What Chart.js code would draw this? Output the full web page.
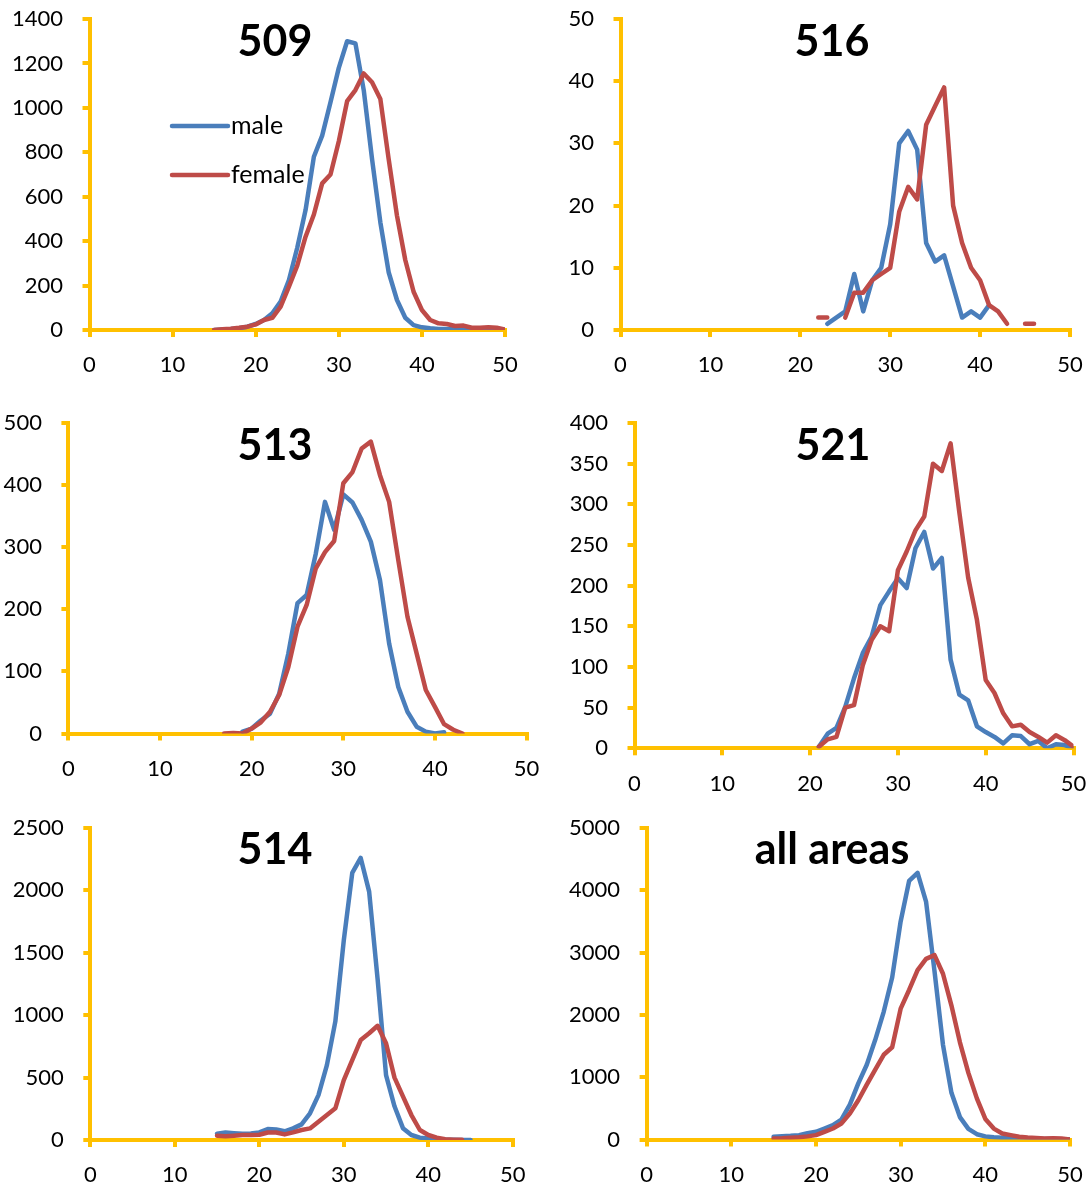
<!DOCTYPE html>
<html><head><meta charset="utf-8">
<script src="https://cdn.jsdelivr.net/npm/chart.js@4.4.1/dist/chart.umd.min.js"></script>
<style>
html,body{margin:0;padding:0;background:#fff;}
#wrap{position:relative;width:1089px;height:1189px;overflow:hidden;}
canvas{position:absolute;}
</style></head><body><div id="wrap"></div>
<script>
// ---- data ----
const ages = [15,16,17,18,19,20,21,22,23,24,25,26,27,28,29,30,31,32,33,34,35,36,37,38,39,40,41,42,43,44,45,46,47,48,49,50];
const seriesNames = ['male','female'];
const panelTitles = ['509','516','513','521','514','all areas'];
const xTickValues = [0,10,20,30,40,50];
const yMaxValues = [1400,50,500,400,2500,5000];
const yStepValues = [200,10,100,50,500,1000];

const male509   = [0,2,4,8,15,27,45,75,128,225,370,540,780,875,1025,1180,1300,1290,1080,770,485,260,135,55,22,12,8,5,4,3,2,2,2,2,1,0];
const female509 = [0,3,6,10,15,25,45,55,105,195,290,420,520,660,700,850,1030,1080,1155,1115,1040,770,515,315,172,90,45,30,27,18,20,10,10,12,10,2];

const male516   = [null,null,null,null,null,null,null,null,1,2,3,9,3,8,10,17,30,32,29,14,11,12,7,2,3,2,4,null,null,null,null,null,null,null,null,null];
const female516 = [null,null,null,null,null,null,null,2,2,null,2,6,6,8,9,10,19,23,21,33,36,39,20,14,10,8,4,3,1,null,1,1,null,null,null,null];

const male513   = [null,null,null,null,3,8,21,32,64,129,210,223,290,373,328,385,372,344,309,247,145,75,35,11,3,0,2,null,null,null,null,null,null,null,null,null];
const female513 = [null,null,0,1,0,8,18,35,62,107,172,207,266,292,310,403,421,459,470,416,373,279,188,129,70,43,15,6,0,null,null,null,null,null,null,null];

const male521   = [null,null,null,null,null,null,2,18,25,51,86,117,137,176,193,209,197,246,266,221,234,109,66,59,27,20,14,6,16,15,5,9,0,5,4,0];
const female521 = [null,null,null,null,null,null,2,11,14,50,53,102,133,150,144,219,242,268,285,350,341,375,290,210,158,84,68,43,27,29,20,14,7,16,10,2];

const male514   = [50,60,55,50,53,61,88,85,70,93,125,214,360,600,950,1600,2140,2260,1990,1290,520,270,95,40,19,13,6,3,2,1,0,null,null,null,null,null];
const female514 = [35,30,35,40,40,42,60,60,45,61,80,93,147,200,254,480,641,801,855,915,775,500,350,200,80,40,19,6,3,3,null,null,null,null,null,null];

const maleAll   = [43,54,60,70,100,123,177,230,320,560,900,1200,1600,2050,2600,3500,4150,4280,3820,2700,1520,750,360,170,85,50,35,28,22,18,15,12,10,8,6,5];
const femaleAll = [16,20,30,35,50,70,123,177,257,417,630,880,1120,1360,1480,2100,2400,2720,2900,2960,2660,2150,1560,1070,660,330,175,96,70,43,32,25,16,20,18,0];

const panelSeries = [
  [male509, female509],
  [male516, female516],
  [male513, female513],
  [male521, female521],
  [male514, female514],
  [maleAll, femaleAll]
];

// ---- layout / style ----
const BLUE = '#4A7EBB', RED = '#BE4B48', AXIS = '#FFC000';
const FONT = 'Lato';
const boxes = [
  {cx:0,   cy:0,   cw:540, ch:395, L:89.5,  R:505,    T:19,  B:330,    tx:275, ty:42},
  {cx:545, cy:0,   cw:544, ch:395, L:620.5, R:1070,   T:19,  B:330,    tx:832, ty:42},
  {cx:0,   cy:398, cw:540, ch:405, L:68.4,  R:526.6,  T:423, B:733.5,  tx:275, ty:446},
  {cx:545, cy:398, cw:544, ch:405, L:634.5, R:1073.5, T:423, B:748.3,  tx:833, ty:446},
  {cx:0,   cy:805, cw:540, ch:384, L:90.3,  R:512.8,  T:828, B:1140,   tx:275, ty:850},
  {cx:545, cy:805, cw:544, ch:384, L:646.6, R:1070,   T:828, B:1139.5, tx:832, ty:850}
];
const legendBox = {x1:172, x2:228, tx:231, y1:126, y2:175};

const wrap = document.getElementById('wrap');

function zeroPad(s) { s.paddingTop = 0; s.paddingBottom = 0; s.paddingLeft = 0; s.paddingRight = 0; }

function makePanel(k) {
  const P = boxes[k];
  const c = document.createElement('canvas');
  c.width = P.cw; c.height = P.ch;
  c.style.left = P.cx + 'px'; c.style.top = P.cy + 'px';
  c.style.width = P.cw + 'px'; c.style.height = P.ch + 'px';
  wrap.appendChild(c);
  const toPts = arr => ages.map((a, i) => ({x: a, y: arr[i]}));
  const [male, female] = panelSeries[k];
  const lineStyle = {pointRadius: 0, borderWidth: 4.5, tension: 0, spanGaps: false,
                     borderCapStyle: 'round', borderJoinStyle: 'round', fill: false};
  const gridStyle = {display: true, drawOnChartArea: false, drawTicks: true, tickLength: 7,
                     color: AXIS, lineWidth: 4};
  const borderStyle = {display: true, color: AXIS, width: 4};
  const tickFont = {family: FONT, size: 22};

  const overlay = {
    id: 'overlay' + k,
    afterDraw(chart) {
      const ctx = chart.ctx;
      ctx.save();
      ctx.fillStyle = '#000';
      ctx.font = 'bold 43px ' + FONT;
      ctx.textAlign = 'center';
      ctx.textBaseline = 'middle';
      ctx.fillText(panelTitles[k], P.tx - P.cx, P.ty - P.cy);
      if (k === 0) {
        const items = [[seriesNames[0], BLUE, legendBox.y1], [seriesNames[1], RED, legendBox.y2]];
        ctx.font = '25px ' + FONT;
        ctx.textAlign = 'left';
        items.forEach(([name, col, y]) => {
          ctx.strokeStyle = col; ctx.lineWidth = 4.5; ctx.lineCap = 'round';
          ctx.beginPath(); ctx.moveTo(legendBox.x1 - P.cx, y - P.cy); ctx.lineTo(legendBox.x2 - P.cx, y - P.cy); ctx.stroke();
          ctx.fillText(name, legendBox.tx - P.cx, y - P.cy);
        });
      }
      ctx.restore();
    }
  };

  new Chart(c, {
    type: 'line',
    data: {
      datasets: [
        Object.assign({label: seriesNames[0], data: toPts(male), borderColor: BLUE, backgroundColor: BLUE, order: 1}, lineStyle),
        Object.assign({label: seriesNames[1], data: toPts(female), borderColor: RED, backgroundColor: RED, order: 0}, lineStyle)
      ]
    },
    options: {
      responsive: false, animation: false, devicePixelRatio: 1,
      layout: {padding: {top: P.T - P.cy, right: P.cx + P.cw - P.R, left: 0, bottom: 0}},
      plugins: {legend: {display: false}, tooltip: {enabled: false}, title: {display: false}},
      scales: {
        x: {
          type: 'linear', min: 0, max: 50,
          afterBuildTicks: s => { s.ticks = xTickValues.map(v => ({value: v})); },
          afterFit: s => { s.height = P.cy + P.ch - P.B; zeroPad(s); },
          grid: gridStyle, border: borderStyle,
          ticks: {font: tickFont, color: '#000', padding: 15, maxRotation: 0, autoSkip: false,
                  callback: v => String(v)}
        },
        y: {
          type: 'linear', min: 0, max: yMaxValues[k],
          afterFit: s => { s.width = P.L - P.cx; zeroPad(s); },
          grid: gridStyle, border: borderStyle,
          ticks: {font: tickFont, color: '#000', padding: 19.5, stepSize: yStepValues[k],
                  autoSkip: false, callback: v => String(v)}
        }
      }
    },
    plugins: [overlay]
  });
}
for (let k = 0; k < 6; k++) makePanel(k);
</script>
</body></html>
